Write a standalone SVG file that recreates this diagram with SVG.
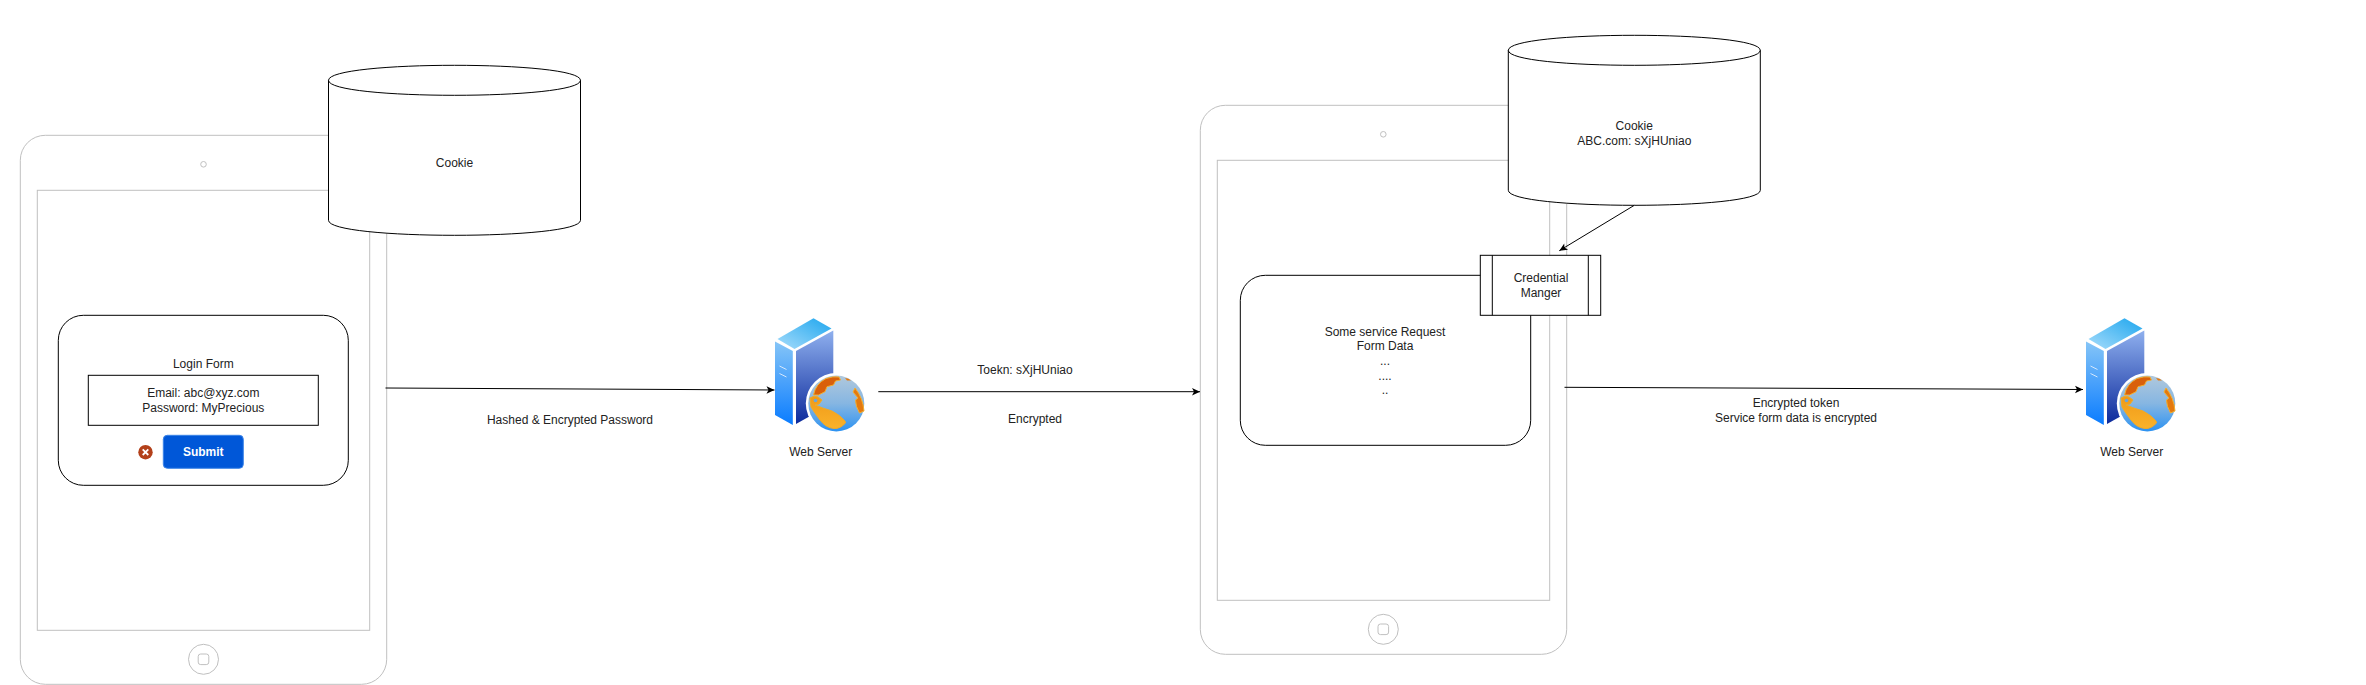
<svg xmlns="http://www.w3.org/2000/svg" xmlns:xlink="http://www.w3.org/1999/xlink" width="2366" height="685" viewBox="0 0 2366 685">
<style>
text{font-family:"Liberation Sans",Arial,sans-serif;font-size:12px;fill:#222;text-anchor:middle}
.dev{fill:none;stroke:#c0c0c0;stroke-width:1}
.shape{fill:#fff;stroke:#000;stroke-width:1}
.edge{fill:none;stroke:#000;stroke-width:1;marker-end:url(#arrow)}
</style>
<defs>
<marker id="arrow" markerUnits="userSpaceOnUse" markerWidth="10" markerHeight="10" refX="8" refY="4" orient="auto" overflow="visible"><path d="M8,4 L0,0.3 L2,4 L0,7.7 Z" fill="#000"/></marker>
<linearGradient id="gLeft" x1="0" y1="0" x2="0" y2="1"><stop offset="0" stop-color="#86c5f7"/><stop offset="1" stop-color="#0a7cff"/></linearGradient>
<linearGradient id="gRight" x1="0" y1="0" x2="0" y2="1"><stop offset="0" stop-color="#8fb0ee"/><stop offset="1" stop-color="#0c2a9c"/></linearGradient>
<linearGradient id="gTop" x1="0" y1="1" x2="1" y2="0"><stop offset="0" stop-color="#a6dcfb"/><stop offset="1" stop-color="#1ea6ee"/></linearGradient>
<linearGradient id="gOcean" x1="0" y1="0" x2="0" y2="1"><stop offset="0" stop-color="#b0c8dc"/><stop offset="0.5" stop-color="#86b6e2"/><stop offset="1" stop-color="#2c92f2"/></linearGradient>
<linearGradient id="gLand" x1="0" y1="0" x2="0" y2="1"><stop offset="0" stop-color="#f09a18"/><stop offset="1" stop-color="#fab22a"/></linearGradient>
<g id="server">
<path d="M775,341.5 L792.8,351 L792.8,425 L775,415 Z" fill="url(#gLeft)"/>
<path d="M796,351 L833.3,330.5 L833.3,403 L796,424 Z" fill="url(#gRight)"/>
<path d="M777.5,339 L813.5,318.3 L831.5,328.5 L794.5,349 Z" fill="url(#gTop)"/>
<path d="M779.5,366 L786.5,369.5 M779.5,373.5 L786.5,377" stroke="#d4e7fb" stroke-width="1" fill="none"/>
<circle cx="836.3" cy="403.5" r="30.5" fill="#fff"/>
<circle cx="836.3" cy="403.5" r="28" fill="url(#gOcean)"/>
<path d="M813.5,395 Q815.5,384 826,378.5 Q833,376 839,377 L840.5,380 L835.5,381 L833.5,385 L827,386.7 L825,391.7 L818.5,395 Z" fill="#d9600b" stroke="#f3ae30" stroke-width="1"/>
<path d="M855,388 Q863,398 864,411 L859.5,413 Q855.5,406 855.5,400 L858,398 L853,392 Z" fill="#e4790f" stroke="#f3ae30" stroke-width="1"/>
<path d="M845,378 Q849,378 851,380.5 L847,380.5 Z" fill="#e4790f"/>
<path d="M810,398 Q814,395 818,397 L822,400 L819,404 L815,405 Q822,408 832,411 Q840,415 845,421 L845.5,423 Q840,429 834,428.5 Q826,428 820,420 Q814,412 811,407 Z" fill="url(#gLand)" stroke="#f0aa28" stroke-width="1"/>
<circle cx="815.5" cy="400.5" r="1.8" fill="#6aa6dc"/>
</g>
</defs>

<g id="tablet-1">
<rect class="dev" x="20.3" y="135.3" width="366.4" height="549" rx="25"/>
<rect class="dev" x="37.3" y="190.3" width="332.4" height="440"/>
<circle class="dev" cx="203.5" cy="164.3" r="2.8"/>
<circle class="dev" cx="203.5" cy="659.3" r="15"/>
<rect class="dev" x="198.2" y="654" width="10.6" height="10.6" rx="2.5"/>
</g>
<g id="cookie-1">
<path class="shape" d="M328.5,80.3 C328.5,60.3 580.5,60.3 580.5,80.3 L580.5,220.3 C580.5,240.3 328.5,240.3 328.5,220.3 Z"/>
<path class="shape" style="fill:none" d="M328.5,80.3 C328.5,100.3 580.5,100.3 580.5,80.3"/>
<text x="454.5" y="167">Cookie</text>
</g>
<g id="login-form">
<rect class="shape" x="58.3" y="315.3" width="290" height="170" rx="25"/>
<text x="203.3" y="368">Login Form</text>
</g>
<g id="credentials-box">
<rect class="shape" x="88.3" y="375.3" width="230" height="50"/>
<text x="203.3" y="397">Email: abc@xyz.com</text>
<text x="203.3" y="412">Password: MyPrecious</text>
</g>
<g id="error-icon">
<circle cx="145.5" cy="452.2" r="7.2" fill="#b3401a"/>
<path d="M142.7,449.4 L148.3,455 M148.3,449.4 L142.7,455" stroke="#fff" stroke-width="1.8" fill="none"/>
</g>
<g id="submit-button">
<rect x="163.3" y="435.3" width="80" height="33" rx="4" fill="#0057d8" stroke="#3d85e8" stroke-width="1"/>
<text x="203.3" y="456" style="fill:#fff;font-weight:bold">Submit</text>
</g>
<g id="web-server-1">
<use href="#server" xlink:href="#server"/>
<text x="820.7" y="455.5">Web Server</text>
</g>

<g id="tablet-2">
<rect class="dev" x="1200.3" y="105.3" width="366.4" height="549" rx="25"/>
<rect class="dev" x="1217.3" y="160.3" width="332.4" height="440"/>
<circle class="dev" cx="1383.3" cy="134.3" r="2.8"/>
<circle class="dev" cx="1383.3" cy="629.3" r="15"/>
<rect class="dev" x="1378" y="624" width="10.6" height="10.6" rx="2.5"/>
</g>
<g id="cookie-2">
<path class="shape" d="M1508.3,50.3 C1508.3,30.3 1760.3,30.3 1760.3,50.3 L1760.3,190.3 C1760.3,210.3 1508.3,210.3 1508.3,190.3 Z"/>
<path class="shape" style="fill:none" d="M1508.3,50.3 C1508.3,70.3 1760.3,70.3 1760.3,50.3"/>
<text x="1634.3" y="130">Cookie</text>
<text x="1634.3" y="145">ABC.com: sXjHUniao</text>
</g>
<g id="service-request">
<rect class="shape" x="1240.3" y="275.3" width="290.4" height="170" rx="25"/>
<text x="1385" y="335.5">Some service Request</text>
<text x="1385" y="350">Form Data</text>
<text x="1385" y="365">...</text>
<text x="1385" y="380">....</text>
<text x="1385" y="393.5">..</text>
</g>
<g id="credential-manager">
<rect class="shape" x="1480.3" y="255.3" width="120.4" height="60"/>
<path class="shape" d="M1492.3,255.3 V315.3 M1588.3,255.3 V315.3"/>
<text x="1541" y="281.7">Credential</text>
<text x="1541" y="296.7">Manger</text>
</g>
<g id="web-server-2">
<use href="#server" xlink:href="#server" x="1311"/>
<text x="2131.7" y="455.5">Web Server</text>
</g>

<g id="connectors">
<path class="edge" d="M385.5,388 L774.5,390"/>
<path class="edge" d="M878.3,391.7 L1200,391.7"/>
<path class="edge" d="M1634.3,205.3 L1559.3,250.7"/>
<path class="edge" d="M1564.5,387.3 L2083,389.5"/>
<text x="570" y="424">Hashed &amp; Encrypted Password</text>
<text x="1025" y="374">Toekn: sXjHUniao</text>
<text x="1035" y="423">Encrypted</text>
<text x="1796" y="406.7">Encrypted token</text>
<text x="1796" y="421.7">Service form data is encrypted</text>
</g>
</svg>
